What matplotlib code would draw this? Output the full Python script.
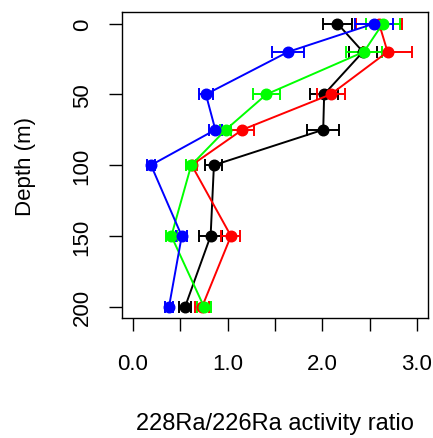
import numpy as np
import matplotlib
matplotlib.use('Agg')
import matplotlib.pyplot as plt

# Data
depth = [0, 20, 50, 75, 100, 150, 200]

black_ratio = [2.16, 2.43, 2.02, 2.01, 0.855, 0.82, 0.55]
black_err = [0.15, 0.15, 0.15, 0.17, 0.09, 0.12, 0.06]

red_ratio = [2.60, 2.69, 2.09, 1.155, 0.62, 1.035, 0.73]
red_err = [0.24, 0.26, 0.15, 0.12, 0.06, 0.10, 0.07]

green_ratio = [2.64, 2.44, 1.41, 0.98, 0.615, 0.405, 0.75]
green_err = [0.18, 0.19, 0.14, 0.06, 0.05, 0.06, 0.07]

blue_ratio = [2.55, 1.64, 0.77, 0.87, 0.19, 0.515, 0.38]
blue_err = [0.20, 0.17, 0.07, 0.07, 0.04, 0.06, 0.04]

x_ticks = [0, 0.5, 1.0, 1.5, 2.0, 2.5, 3.0]
x_tick_labels = ['0.0', '', '1.0', '', '2.0', '', '3.0']
y_ticks = [0, 50, 100, 150, 200]

plt.rcParams['font.family'] = ['Liberation Sans', 'DejaVu Sans']

fig = plt.figure(figsize=(4.33, 4.39), dpi=100)
ax = fig.add_axes([0.281, 0.273, 0.708, 0.697])

series = [
    (black_ratio, black_err, 'black'),
    (red_ratio, red_err, 'red'),
    (green_ratio, green_err, '#00ff00'),
    (blue_ratio, blue_err, 'blue'),
]
for vals, errs, col in series:
    ax.errorbar(vals, depth, xerr=errs, color=col, ecolor=col, marker='o',
                markersize=7.6, linewidth=1.4, elinewidth=1.4, capsize=4.3,
                capthick=1.4)

ax.set_xlim(-0.12, 3.12)
ax.set_ylim(208, -8)

ax.set_xticks(x_ticks)
ax.set_xticklabels(x_tick_labels)
ax.set_yticks(y_ticks)
ax.set_yticklabels([str(v) for v in y_ticks], rotation=90, va='center')

for side in ax.spines:
    ax.spines[side].set_linewidth(1.0)

ax.tick_params(axis='both', direction='out', length=9.4, width=1.0,
               labelsize=16, color='black')
ax.tick_params(axis='x', pad=15.5)
ax.tick_params(axis='y', pad=11.5)

ax.set_xlabel('228Ra/226Ra activity ratio', fontsize=17)
ax.set_ylabel('Depth (m)', fontsize=16)
ax.xaxis.set_label_coords(0.5, -0.307)
ax.yaxis.set_label_coords(-0.28, 0.5)

fig.savefig('out.png', dpi=100)
